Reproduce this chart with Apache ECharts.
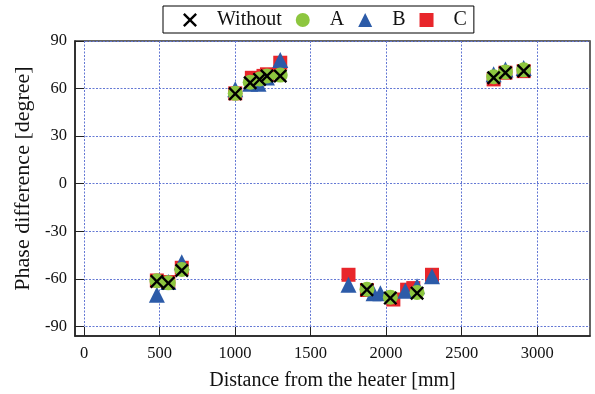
<!DOCTYPE html>
<html>
<head>
<meta charset="utf-8">
<script src="https://cdn.jsdelivr.net/npm/echarts@6/dist/echarts.min.js"></script>
<style>
  html, body { margin: 0; padding: 0; background: #fff; }
  #chart { width: 595px; height: 394px; }
</style>
</head>
<body>
<div id="chart"></div>
<script>
// values
const xTicks = [0, 500, 1000, 1500, 2000, 2500, 3000];
const yTicks = [-90, -60, -30, 0, 30, 60, 90];

const distWithout = [482, 558, 647, 1001, 1100, 1162, 1211, 1299, 1873, 2028, 2205, 2712, 2790, 2911];
const phaseWithout = [-61.6, -62.7, -54.7, 56.7, 63.7, 65.8, 67.9, 67.9, -66.8, -72.1, -69.0, 66.8, 70.0, 71.1];

const distA = [482, 558, 647, 1001, 1100, 1162, 1211, 1299, 1873, 2028, 2205, 2712, 2790, 2911];
const phaseA = [-61.2, -62.5, -54.0, 57.0, 64.0, 66.0, 68.0, 68.5, -66.5, -71.5, -68.5, 67.5, 70.5, 71.8];

const distB = [482, 558, 647, 1001, 1100, 1155, 1211, 1299, 1751, 1917, 1962, 2127, 2205, 2304, 2712, 2790, 2911];
const phaseB = [-70.0, -62.0, -49.5, 59.5, 63.0, 63.0, 67.0, 78.0, -63.7, -69.0, -69.0, -67.5, -64.7, -58.4, 69.0, 72.0, 73.0];

const distC = [482, 558, 647, 1001, 1111, 1188, 1211, 1299, 1751, 1873, 2048, 2139, 2180, 2304, 2712, 2790, 2911];
const phaseC = [-61.0, -62.0, -53.0, 57.0, 66.8, 68.0, 69.0, 76.3, -57.4, -67.0, -73.0, -66.8, -65.8, -57.4, 65.8, 70.0, 71.0];

const pairs = (xs, ys) => xs.map((x, i) => [x, ys[i]]);

const crossPath = 'path://M0,12L12,0L50,38L88,0L100,12L62,50L100,88L88,100L50,62L12,100L0,88L38,50Z';
const serif = '"Liberation Serif", "DejaVu Serif", serif';

const chart = echarts.init(document.getElementById('chart'), null, { renderer: 'canvas' });

chart.setOption({
  animation: false,
  backgroundColor: '#fff',
  legend: {
    top: 6,
    left: 163,
    padding: [4, 7, 3, 20],
    borderColor: '#000',
    borderWidth: 1,
    itemWidth: 14,
    itemHeight: 14,
    itemGap: 14,
    textStyle: { fontFamily: serif, fontSize: 20, color: '#111', padding: [0, 0, 0, 15] },
    data: [
      { name: 'Without', icon: crossPath },
      { name: 'A', icon: 'circle' },
      { name: 'B', icon: 'triangle' },
      { name: 'C', icon: 'rect' }
    ]
  },
  grid: {
    left: 75,
    top: 41,
    right: 5,
    bottom: 58,
    outerBoundsMode: 'none',
    show: true,
    borderColor: '#333',
    borderWidth: 1.5
  },
  xAxis: {
    type: 'value',
    min: -60,
    max: 3350,
    name: 'Distance from the heater [mm]',
    nameLocation: 'middle',
    nameGap: 35,
    nameTextStyle: { fontFamily: serif, fontSize: 20, color: '#111' },
    axisLine: { show: true, onZero: false, lineStyle: { color: '#222', width: 1.5 } },
    axisTick: { show: true, inside: true, length: 9, customValues: xTicks, lineStyle: { color: '#222' } },
    axisLabel: {
      customValues: xTicks, margin: 9, fontFamily: serif, fontSize: 16.5, color: '#111',
      formatter: (v) => String(v)
    },
    splitLine: { show: true, lineStyle: { color: '#6478d4', type: [2, 1.5], width: 1 } }
  },
  yAxis: {
    type: 'value',
    min: -96,
    max: 90,
    name: 'Phase difference [degree]',
    nameLocation: 'middle',
    nameGap: 38,
    nameTextStyle: { fontFamily: serif, fontSize: 22, color: '#111', padding: [0, 0, 0, 20] },
    axisLine: { show: true, onZero: false, lineStyle: { color: '#222', width: 1.5 } },
    axisTick: { show: true, inside: true, length: 9, customValues: yTicks, lineStyle: { color: '#222' } },
    axisLabel: {
      customValues: yTicks, margin: 8, fontFamily: serif, fontSize: 16.5, color: '#111',
      formatter: (v) => String(v)
    },
    splitLine: { show: true, lineStyle: { color: '#6478d4', type: [2, 1.5], width: 1 } }
  },
  series: [
    {
      name: 'C',
      type: 'scatter',
      symbol: 'rect',
      symbolSize: 14,
      itemStyle: { color: '#e8262b', opacity: 1 },
      data: pairs(distC, phaseC)
    },
    {
      name: 'B',
      type: 'scatter',
      symbol: 'triangle',
      symbolSize: 16,
      itemStyle: { color: '#2c5ba8', opacity: 1 },
      data: pairs(distB, phaseB)
    },
    {
      name: 'A',
      type: 'scatter',
      symbol: 'circle',
      symbolSize: 15,
      itemStyle: { color: '#8dc63f', opacity: 1 },
      data: pairs(distA, phaseA)
    },
    {
      name: 'Without',
      type: 'scatter',
      symbol: crossPath,
      symbolSize: 14,
      itemStyle: { color: '#000', opacity: 1 },
      data: pairs(distWithout, phaseWithout)
    }
  ]
});
</script>
</body>
</html>
